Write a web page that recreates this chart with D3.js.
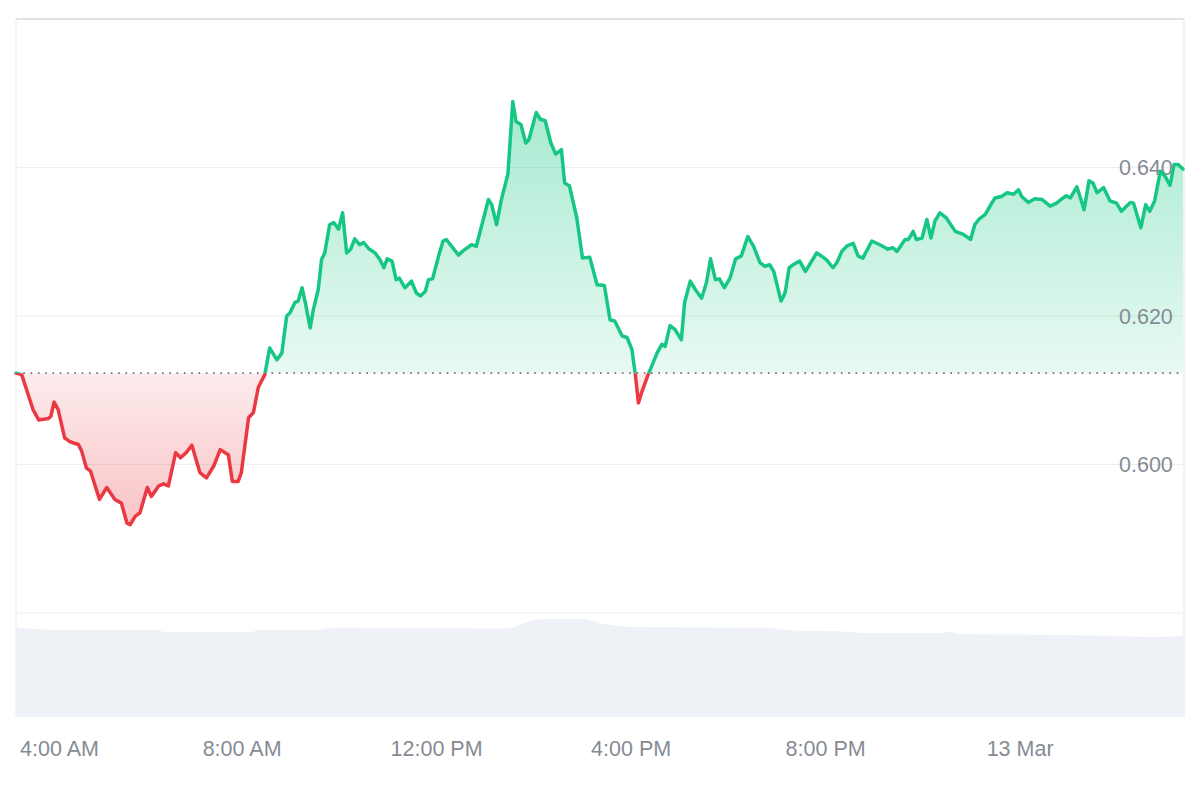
<!DOCTYPE html>
<html>
<head>
<meta charset="utf-8">
<script src="https://cdn.jsdelivr.net/npm/d3@7/dist/d3.min.js"></script>
<style>
  html, body { margin: 0; padding: 0; background: #ffffff; }
  svg { display: block; }
  text { font-family: "Liberation Sans", Arial, Helvetica, sans-serif; }
</style>
</head>
<body>
<svg id="chart" width="1200" height="800"></svg>
<script>
// ---------------- DATA ----------------
const startTime = "2024-03-12T03:21:00";
// minutes after startTime
const priceMinutes = [0,7,13,21,28,40,43,47,52,60,66,71,77,81,87,92,103,112,122,130,137,141,147,153,162,167,176,182,188,197,203,210,217,227,235,244,252,262,267,274,278,287,293,299,307,313,322,328,334,338,344,348,353,357,363,367,373,377,381,387,392,398,403,408,413,418,424,429,435,443,449,454,458,464,469,473,480,488,494,499,505,509,514,522,527,531,546,552,562,568,583,587,593,599,607,613,617,623,629,633,642,647,653,660,666,673,677,683,692,699,708,717,726,733,739,748,754,760,764,768,772,780,791,797,801,807,813,821,825,832,838,846,852,857,863,868,874,881,888,895,903,910,918,924,930,935,944,949,954,959,967,974,978,988,1000,1008,1013,1019,1025,1033,1039,1045,1056,1066,1076,1082,1087,1097,1101,1107,1111,1118,1124,1129,1134,1140,1148,1159,1169,1178,1183,1189,1196,1204,1208,1216,1223,1231,1237,1241,1249,1257,1266,1276,1284,1292,1296,1301,1309,1318,1324,1329,1334,1342,1350,1358,1364,1375,1379,1388,1394,1399,1405,1412,1418,1424,1429,1434,1440];
const priceValues = [0.6123,0.6121,0.6101,0.6074,0.6060,0.6062,0.6065,0.6084,0.6074,0.6036,0.6031,0.6029,0.6027,0.6018,0.5995,0.5991,0.5953,0.5969,0.5953,0.5948,0.5921,0.5919,0.5930,0.5935,0.5969,0.5957,0.5971,0.5974,0.5971,0.6016,0.6009,0.6016,0.6026,0.5989,0.5982,0.5998,0.6020,0.6013,0.5977,0.5977,0.5989,0.6063,0.6070,0.6104,0.6121,0.6157,0.6141,0.6150,0.6200,0.6204,0.6218,0.6220,0.6238,0.6218,0.6184,0.6209,0.6236,0.6276,0.6285,0.6323,0.6326,0.6317,0.6339,0.6285,0.6290,0.6304,0.6296,0.6299,0.6291,0.6285,0.6276,0.6265,0.6277,0.6274,0.6249,0.6251,0.6238,0.6247,0.6231,0.6227,0.6233,0.6249,0.6250,0.6283,0.6301,0.6303,0.6282,0.6288,0.6296,0.6294,0.6357,0.6350,0.6323,0.6357,0.6391,0.6489,0.6462,0.6458,0.6433,0.6438,0.6474,0.6465,0.6463,0.6433,0.6418,0.6424,0.6379,0.6375,0.6332,0.6278,0.6279,0.6242,0.6241,0.6195,0.6193,0.6173,0.6171,0.6155,0.6123,0.6083,0.6097,0.6121,0.6150,0.6162,0.6159,0.6187,0.6182,0.6168,0.6218,0.6247,0.6236,0.6224,0.6245,0.6277,0.6249,0.6250,0.6238,0.6251,0.6277,0.6281,0.6307,0.6294,0.6272,0.6267,0.6269,0.6260,0.6220,0.6231,0.6265,0.6269,0.6274,0.6260,0.6267,0.6285,0.6276,0.6265,0.6272,0.6287,0.6294,0.6298,0.6281,0.6278,0.6301,0.6296,0.6290,0.6292,0.6287,0.6303,0.6303,0.6314,0.6303,0.6305,0.6330,0.6305,0.6328,0.6339,0.6332,0.6314,0.6310,0.6303,0.6323,0.6331,0.6337,0.6352,0.6359,0.6361,0.6366,0.6364,0.6370,0.6361,0.6353,0.6358,0.6357,0.6348,0.6352,0.6359,0.6362,0.6359,0.6374,0.6343,0.6382,0.6379,0.6366,0.6373,0.6355,0.6352,0.6341,0.6353,0.6352,0.6319,0.6350,0.6341,0.6355,0.6395,0.6388,0.6376,0.6404,0.6404,0.6398];
const baselinePrice = 0.6123;

const volumeMinutes = [0,25,60,170,185,290,300,370,390,600,615,635,660,700,720,740,760,930,950,1030,1045,1140,1150,1170,1300,1400,1440];
const volumeValues  = [339,335,331,331,324,324,331,331,339,337,343,366,373,373,358,348,343,339,331,324,320,320,324,316,312,305,308];

const yTickValues = [0.600, 0.620, 0.640];
const yTickLabels = ["0.600", "0.620", "0.640"];
const yGridValues = [0.580, 0.600, 0.620, 0.640];
const xTickLabels = ["4:00 AM", "8:00 AM", "12:00 PM", "4:00 PM", "8:00 PM", "13 Mar"];

// ---------------- CHART ----------------
const svg = d3.select("#chart");
const t0 = new Date(startTime);
const toDate = m => new Date(t0.getTime() + m * 60000);
const price = priceMinutes.map((m, i) => ({ t: toDate(m), v: priceValues[i] }));
const volume = volumeMinutes.map((m, i) => ({ t: toDate(m), v: volumeValues[i] }));

const plotL = 16, plotR = 1184, plotT = 19, priceB = 613, volB = 717;

const x = d3.scaleTime().domain([t0, toDate(1440)]).range([plotL, 1183]);
const y = d3.scaleLinear().domain([0.58, 0.66]).range([priceB, plotT]);
const yv = d3.scaleLinear().domain([0, 400]).range([volB, 612]);

const baseY = y(baselinePrice);
const defs = svg.append("defs");

// gradients
const gGreen = defs.append("linearGradient").attr("id", "gGreen")
  .attr("gradientUnits", "userSpaceOnUse").attr("x1", 0).attr("x2", 0)
  .attr("y1", y(d3.max(priceValues))).attr("y2", baseY);
gGreen.append("stop").attr("offset", 0).attr("stop-color", "#16c784").attr("stop-opacity", 0.38);
gGreen.append("stop").attr("offset", 1).attr("stop-color", "#16c784").attr("stop-opacity", 0.1);

const gRed = defs.append("linearGradient").attr("id", "gRed")
  .attr("gradientUnits", "userSpaceOnUse").attr("x1", 0).attr("x2", 0)
  .attr("y1", baseY).attr("y2", y(d3.min(priceValues)));
gRed.append("stop").attr("offset", 0).attr("stop-color", "#ea3943").attr("stop-opacity", 0.1);
gRed.append("stop").attr("offset", 1).attr("stop-color", "#ea3943").attr("stop-opacity", 0.3);

defs.append("clipPath").attr("id", "clipUp").append("rect")
  .attr("x", 0).attr("y", 0).attr("width", 1200).attr("height", baseY);
defs.append("clipPath").attr("id", "clipDown").append("rect")
  .attr("x", 0).attr("y", baseY).attr("width", 1200).attr("height", 800 - baseY);

// gridlines
svg.append("g").selectAll("line").data(yGridValues).join("line")
  .attr("x1", plotL).attr("x2", plotR)
  .attr("y1", d => y(d)).attr("y2", d => y(d))
  .attr("stroke", "#eeeeee").attr("stroke-width", 1.2);

// borders
svg.append("line").attr("x1", plotL).attr("x2", plotR).attr("y1", plotT).attr("y2", plotT)
  .attr("stroke", "#e2e2e2").attr("stroke-width", 2);
svg.append("line").attr("x1", plotL).attr("x2", plotL).attr("y1", plotT).attr("y2", volB)
  .attr("stroke", "#f0f0f0").attr("stroke-width", 1.5);
svg.append("line").attr("x1", plotR).attr("x2", plotR).attr("y1", plotT).attr("y2", volB)
  .attr("stroke", "#efefef").attr("stroke-width", 1.5);

// volume
svg.append("path").datum(volume)
  .attr("d", d3.area().x(d => x(d.t)).y0(volB).y1(d => yv(d.v)).curve(d3.curveMonotoneX))
  .attr("fill", "#eef1f5");

// fills
const area = d3.area().x(d => x(d.t)).y0(baseY).y1(d => y(d.v)).curve(d3.curveLinear);
svg.append("path").datum(price).attr("d", area).attr("fill", "url(#gGreen)").attr("clip-path", "url(#clipUp)");
svg.append("path").datum(price).attr("d", area).attr("fill", "url(#gRed)").attr("clip-path", "url(#clipDown)");

// baseline dotted
svg.append("line").attr("x1", plotL).attr("x2", 1183).attr("y1", baseY).attr("y2", baseY)
  .attr("stroke", "#6f6f6f").attr("stroke-width", 1.6).attr("stroke-dasharray", "1.6,5.7");

// y labels
svg.append("g").selectAll("text").data(yTickValues).join("text")
  .attr("x", 1119).attr("y", d => y(d)).attr("dy", "0.36em")
  .attr("font-size", 21.5).attr("fill", "#858b94")
  .text((d, i) => yTickLabels[i]);

// lines
const line = d3.line().x(d => x(d.t)).y(d => y(d.v)).curve(d3.curveLinear);
svg.append("path").datum(price).attr("d", line).attr("fill", "none")
  .attr("stroke", "#16c784").attr("stroke-width", 3.5).attr("stroke-linejoin", "round").attr("stroke-linecap", "round")
  .attr("clip-path", "url(#clipUp)");
svg.append("path").datum(price).attr("d", line).attr("fill", "none")
  .attr("stroke", "#ea3943").attr("stroke-width", 3.5).attr("stroke-linejoin", "round").attr("stroke-linecap", "round")
  .attr("clip-path", "url(#clipDown)");

// x labels
const xTicks = x.ticks(d3.timeHour.every(4));
const xg = svg.append("g");
xTicks.forEach((t, i) => {
  if (i >= xTickLabels.length) return;
  const txt = xg.append("text").attr("x", x(t)).attr("y", 748).attr("dy", "0.36em")
    .attr("font-size", 21.5).attr("fill", "#858b94").attr("text-anchor", "middle")
    .text(xTickLabels[i]);
  const bb = txt.node().getBBox();
  if (bb.x < plotL + 4) { txt.attr("text-anchor", "start").attr("x", plotL + 4); }
});
</script>
</body>
</html>
